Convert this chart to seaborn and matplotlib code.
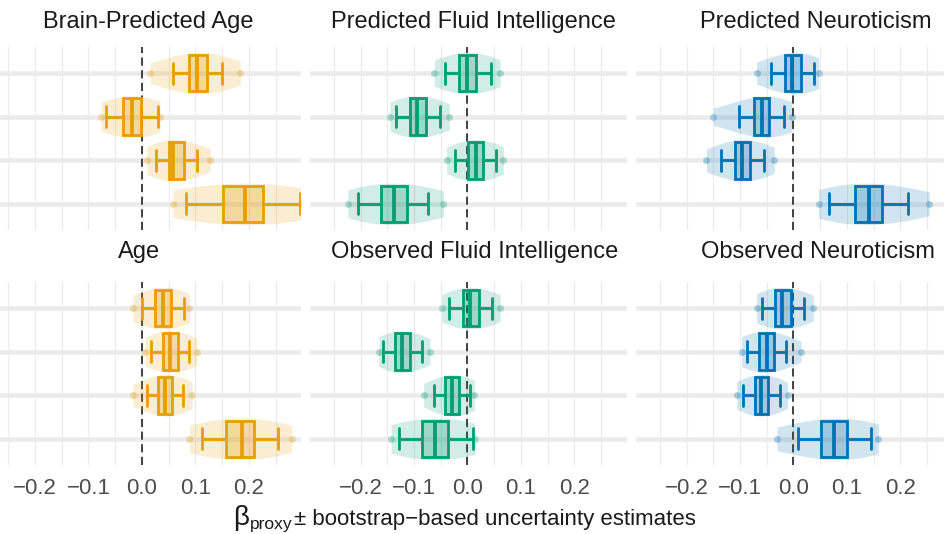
import matplotlib
matplotlib.use("Agg")
import matplotlib.pyplot as plt
import pandas as pd
import seaborn as sns

# panel titles (row-major) and colours
titles = ["Brain-Predicted Age", "Predicted Fluid Intelligence", "Predicted Neuroticism",
          "Age", "Observed Fluid Intelligence", "Observed Neuroticism"]
panel_colors = ["#E69F00", "#009E73", "#0072B2", "#E69F00", "#009E73", "#0072B2"]
rows = ["r1", "r2", "r3", "r4"]  # unlabeled rows, top -> bottom

# bootstrap summaries (one list of 4 rows per panel)
cloud_lo = [[0.016, -0.076, 0.009, 0.058], [-0.062, -0.145, -0.039, -0.224], [-0.069, -0.150, -0.163, 0.047],
            [-0.017, 0.006, -0.017, 0.089], [-0.048, -0.166, -0.082, -0.143], [-0.069, -0.097, -0.106, -0.031]]
whisk_lo = [[0.059, -0.067, 0.026, 0.082], [-0.042, -0.134, -0.023, -0.204], [-0.042, -0.102, -0.136, 0.067],
            [0.000, 0.017, 0.009, 0.112], [-0.034, -0.158, -0.062, -0.128], [-0.059, -0.087, -0.094, 0.008]]
q1 = [[0.089, -0.036, 0.050, 0.151], [-0.016, -0.108, 0.001, -0.162], [-0.016, -0.074, -0.109, 0.115],
      [0.024, 0.039, 0.031, 0.157], [-0.009, -0.135, -0.042, -0.085], [-0.034, -0.064, -0.072, 0.052]]
median = [[0.104, -0.019, 0.059, 0.193], [0.000, -0.094, 0.015, -0.138], [-0.002, -0.059, -0.097, 0.141],
          [0.039, 0.053, 0.044, 0.187], [0.005, -0.122, -0.029, -0.060], [-0.021, -0.050, -0.060, 0.076]]
q3 = [[0.122, -0.002, 0.078, 0.226], [0.016, -0.077, 0.029, -0.114], [0.014, -0.045, -0.082, 0.166],
      [0.054, 0.067, 0.056, 0.209], [0.021, -0.108, -0.016, -0.036], [-0.004, -0.036, -0.047, 0.100]]
whisk_hi = [[0.150, 0.030, 0.104, 0.296], [0.044, -0.051, 0.054, -0.073], [0.039, -0.017, -0.056, 0.214],
            [0.079, 0.089, 0.077, 0.254], [0.046, -0.085, 0.005, 0.011], [0.020, -0.014, -0.026, 0.145]]
cloud_hi = [[0.184, 0.034, 0.128, 0.297], [0.061, -0.034, 0.067, -0.045], [0.047, -0.003, -0.036, 0.254],
            [0.089, 0.103, 0.094, 0.280], [0.061, -0.070, 0.013, 0.014], [0.037, 0.014, -0.011, 0.159]]

xticks = [-0.2, -0.1, 0.0, 0.1, 0.2]
xtick_labels = ["\u22120.2", "\u22120.1", "0.0", "0.1", "0.2"]
xminor = [-0.25, -0.15, -0.05, 0.05, 0.15, 0.25]

# long tables for seaborn
box_recs, cloud_recs, edge_recs = [], [], []
for p in range(6):
    for g, r in enumerate(rows):
        for v in (whisk_lo[p][g], q1[p][g], median[p][g], q3[p][g], whisk_hi[p][g]):
            box_recs.append((p, r, v))
        for v in (cloud_lo[p][g], whisk_lo[p][g], q1[p][g], median[p][g], q3[p][g], whisk_hi[p][g], cloud_hi[p][g]):
            cloud_recs.append((p, r, v))
        for v in (cloud_lo[p][g], cloud_hi[p][g]):
            edge_recs.append((p, r, v))
df_box = pd.DataFrame(box_recs, columns=["panel", "row", "value"])
df_cloud = pd.DataFrame(cloud_recs, columns=["panel", "row", "value"])
df_edge = pd.DataFrame(edge_recs, columns=["panel", "row", "value"])

sns.set_theme(style="white")
plt.rcParams["font.family"] = ["Liberation Sans", "DejaVu Sans"]

W, H = 945, 534
fig = plt.figure(figsize=(W / 100, H / 100), dpi=100)

lefts = [-15.8, 309.8, 635.8]
tops = [47, 282]
pw, ph = 317, 183
title_x = [[148, 473.5, 816], [139, 475, 818]]
title_y = [22, 252]

for p in range(6):
    i, j = divmod(p, 3)
    ax = fig.add_axes([lefts[j] / W, 1 - (tops[i] + ph) / H, pw / W, ph / H])
    col = panel_colors[p]
    ax.axvline(0, color="#333333", lw=1.3, ls=(0, (4.5, 2.5)), zorder=1)

    sns.violinplot(data=df_cloud[df_cloud.panel == p], x="value", y="row", order=rows, orient="h",
                   color=col, saturation=1, cut=0, inner=None, density_norm="width",
                   width=0.95, bw_adjust=1.3, linewidth=0, alpha=0.18, ax=ax)
    sns.stripplot(data=df_edge[df_edge.panel == p], x="value", y="row", order=rows, orient="h",
                  color=col, jitter=False, size=5, alpha=0.3, linewidth=0, ax=ax)
    sns.boxplot(data=df_box[df_box.panel == p], x="value", y="row", order=rows, orient="h",
                color=col, linecolor=col, saturation=1, whis=(0, 100), width=0.84, linewidth=2.0,
                showfliers=False, capwidths=0.48,
                boxprops=dict(facecolor=matplotlib.colors.to_rgba(col, 0.25)),
                medianprops=dict(lw=2.7), ax=ax)

    ax.set_xlim(-0.295, 0.298)
    ax.set_ylim(3.6, -0.6)
    ax.set_xlabel("")
    ax.set_ylabel("")
    ax.set_yticks(range(4))
    ax.set_yticklabels([])
    ax.set_xticks(xticks)
    ax.set_xticks(xminor, minor=True)
    if i == 1:
        ax.set_xticklabels(xtick_labels)
    else:
        ax.set_xticklabels([])
    ax.set_axisbelow(True)
    ax.grid(axis="y", which="major", color="#EBEBEB", lw=3.3)
    ax.grid(axis="x", which="both", color="#EBEBEB", lw=0.9)
    ax.tick_params(axis="both", which="both", length=0, labelsize=16, labelcolor="#4D4D4D", pad=9)
    for s in ax.spines.values():
        s.set_visible(False)
    fig.text(title_x[i][j] / W, 1 - title_y[i] / H, titles[p], ha="center", va="center",
             fontsize=17, color="#1A1A1A")

# x axis title: large beta, "proxy" subscript, then plain text
fig.text(233 / W, 1 - 525 / H, "\u03b2", ha="left", va="baseline", fontsize=20, color="#1A1A1A")
fig.text(250 / W, 1 - 529 / H, "proxy", ha="left", va="baseline", fontsize=12.5, color="#1A1A1A")
fig.text(294 / W, 1 - 525 / H, "\u00b1 bootstrap\u2212based uncertainty estimates",
         ha="left", va="baseline", fontsize=16, color="#1A1A1A")

fig.savefig("out.png", dpi=100)
